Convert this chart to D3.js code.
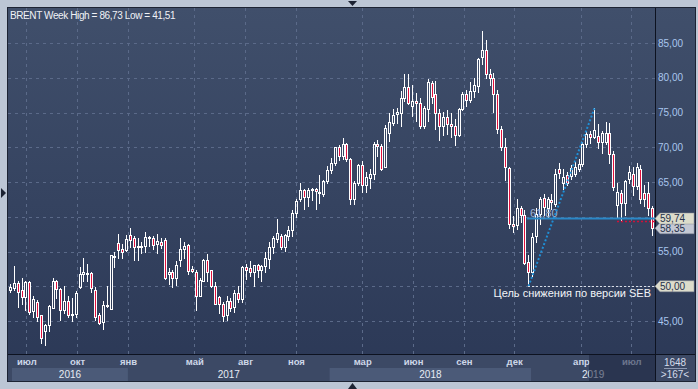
<!DOCTYPE html>
<html>
<head>
<meta charset="utf-8">
<script src="https://cdn.jsdelivr.net/npm/d3@7"></script>
<style>
  html, body { margin: 0; padding: 0; background: #bcc6d5; }
  svg { display: block; font-family: "Liberation Sans", Arial, sans-serif; }
</style>
</head>
<body>
<svg id="chart"></svg>
<script>
// Weekly BRENT candles, one per week, first week centred on 1 Jun 2016
const firstWeek = new Date(2016, 5, 1, 12);

const open = [
  49.5, 49.7, 50.4, 49.4, 48.4, 50.6, 46.5, 47.8, 45.8, 43.6,
  44.4, 46.9, 50.7, 49.6, 46.6, 47.9, 45.9, 46.0, 49.9, 51.8,
  51.9, 51.9, 49.4, 45.9, 44.9, 47.1, 46.7, 54.3, 56.2, 55.4,
  55.2, 57.4, 56.9, 55.6, 55.6, 55.8, 56.9, 57.0, 56.1, 56.4,
  56.6, 51.7, 52.0, 51.2, 53.8, 55.4, 55.9, 52.5, 52.1, 48.6,
  50.8, 53.8, 52.3, 50.0, 48.4, 47.4, 45.8, 47.9, 47.0, 49.1,
  48.1, 52.7, 52.6, 52.1, 53.0, 52.4, 52.9, 53.9, 55.6, 56.8,
  57.3, 55.7, 57.3, 58.1, 60.6, 62.5, 63.8, 62.8, 63.8, 64.0,
  63.5, 63.3, 65.1, 66.7, 67.7, 70.0, 68.8, 70.4, 68.3, 62.6,
  64.8, 67.4, 64.5, 65.6, 66.1, 70.4, 70.2, 67.2, 72.0, 73.5,
  74.8, 75.0, 77.1, 78.7, 75.9, 76.7, 76.4, 73.1, 75.5, 79.2,
  77.6, 75.0, 73.1, 74.4, 73.3, 73.0, 71.7, 75.5, 77.6, 76.8,
  78.1, 78.8, 83.0, 84.0, 80.5, 79.9, 77.7, 72.6, 70.0, 67.0,
  59.0, 58.8, 61.3, 60.2, 53.5, 52.1, 57.2, 60.4, 62.7, 61.2,
  62.4, 61.8, 66.8, 64.8, 66.0, 65.8, 66.2, 66.8, 67.6, 70.5,
  71.9, 71.5, 71.6, 70.7, 70.7, 72.1, 69.1, 61.7, 63.4, 62.0,
  65.4, 66.2, 64.4, 66.8, 63.4, 63.4, 61.2
];
const high = [
  50.3, 52.9, 50.8, 51.2, 50.8, 50.8, 48.6, 48.0, 45.9, 44.6,
  47.3, 51.2, 50.9, 49.8, 50.0, 48.6, 48.3, 49.3, 52.8, 54.1,
  53.2, 52.0, 49.9, 46.2, 47.9, 50.0, 54.5, 55.0, 57.5, 56.1,
  57.4, 58.4, 57.2, 57.0, 56.3, 57.8, 57.3, 57.3, 57.5, 57.0,
  57.0, 52.6, 52.4, 53.6, 56.9, 56.4, 56.1, 52.9, 52.4, 51.2,
  53.9, 54.7, 52.4, 50.6, 48.6, 47.8, 48.6, 48.3, 49.4, 50.1,
  52.9, 53.2, 53.7, 53.1, 53.2, 53.1, 55.0, 56.4, 57.3, 59.7,
  57.5, 57.5, 58.7, 60.9, 62.5, 64.8, 64.0, 64.1, 64.2, 64.1,
  66.0, 65.3, 67.3, 68.5, 70.1, 70.3, 71.4, 70.6, 68.5, 65.2,
  67.6, 68.0, 66.4, 66.8, 70.7, 71.1, 70.4, 73.2, 75.0, 75.5,
  75.6, 78.1, 80.6, 80.6, 78.9, 77.8, 77.1, 75.9, 79.8, 79.5,
  79.5, 75.5, 75.1, 75.4, 75.0, 74.0, 75.6, 77.9, 78.3, 79.4,
  79.9, 82.9, 86.73, 85.4, 81.3, 80.7, 78.2, 73.1, 71.4, 67.2,
  60.1, 62.5, 61.6, 61.0, 54.5, 57.6, 61.3, 62.9, 63.3, 62.9,
  63.3, 66.8, 67.8, 66.8, 66.4, 67.5, 67.9, 68.3, 70.7, 72.3,
  72.3, 75.6, 73.4, 72.4, 73.6, 73.5, 69.5, 64.8, 63.9, 65.3,
  67.3, 67.1, 67.7, 67.5, 64.5, 65.0, 61.5
];
const low = [
  49.2, 49.5, 47.0, 47.5, 46.6, 46.0, 45.6, 45.0, 41.8, 41.51,
  43.5, 46.8, 48.3, 45.1, 46.1, 45.6, 45.0, 45.6, 49.7, 50.7,
  50.8, 49.2, 45.1, 44.5, 43.8, 47.0, 46.8, 52.8, 54.0, 54.0,
  55.1, 55.6, 53.8, 53.8, 54.8, 55.0, 55.8, 55.3, 54.8, 55.5,
  51.1, 50.3, 49.9, 50.2, 52.9, 54.1, 51.7, 52.0, 46.6, 48.7,
  50.7, 50.7, 49.9, 47.4, 46.2, 45.0, 45.1, 46.5, 46.3, 47.8,
  47.8, 51.1, 51.5, 50.1, 51.3, 50.7, 52.1, 52.6, 54.8, 56.4,
  55.3, 55.1, 56.7, 57.3, 60.0, 62.2, 61.1, 61.5, 62.4, 61.1,
  62.0, 63.0, 64.9, 66.3, 67.4, 68.2, 68.3, 68.0, 61.9, 61.8,
  64.5, 63.5, 63.5, 64.2, 65.4, 68.8, 66.7, 67.1, 70.9, 73.2,
  73.5, 73.1, 76.7, 76.2, 74.5, 73.8, 72.8, 72.8, 73.8, 76.4,
  72.6, 71.1, 71.7, 71.9, 71.5, 70.3, 71.6, 75.3, 75.9, 76.5,
  77.2, 78.0, 82.0, 79.9, 79.0, 75.1, 72.1, 69.6, 65.3, 58.4,
  57.8, 58.2, 59.2, 53.2, 50.0, 51.5, 56.3, 58.9, 60.3, 59.8,
  61.1, 61.6, 65.6, 64.0, 64.6, 65.5, 65.8, 66.6, 67.3, 70.1,
  70.6, 71.3, 69.9, 69.2, 70.4, 67.7, 63.9, 59.9, 59.5, 60.2,
  64.9, 63.2, 64.0, 62.0, 61.5, 60.2, 57.4
];
const close = [
  49.9, 50.4, 49.2, 48.4, 50.6, 46.25, 48.2, 45.6, 42.5, 44.4,
  47.2, 50.7, 49.6, 46.6, 47.9, 45.9, 46.0, 49.0, 51.7, 52.0,
  51.9, 49.7, 45.6, 44.7, 47.3, 47.3, 54.5, 54.4, 55.2, 55.0,
  56.8, 56.7, 55.6, 55.8, 55.8, 57.1, 57.1, 56.0, 56.5, 55.9,
  51.2, 52.1, 51.2, 53.0, 55.4, 55.8, 52.2, 52.2, 48.6, 50.9,
  53.8, 52.1, 50.0, 47.5, 47.4, 45.7, 47.9, 46.9, 49.1, 48.1,
  52.7, 52.4, 52.1, 53.0, 52.4, 52.9, 54.0, 55.6, 57.0, 57.7,
  55.7, 57.4, 58.1, 60.6, 62.3, 63.8, 62.8, 63.8, 64.0, 63.7,
  63.6, 65.1, 66.7, 67.8, 70.0, 68.8, 70.5, 68.3, 62.6, 64.9,
  67.4, 64.5, 65.7, 66.1, 70.4, 70.2, 66.9, 72.7, 73.6, 74.6,
  75.1, 77.1, 78.7, 76.4, 76.7, 76.4, 73.1, 75.7, 79.4, 77.3,
  75.0, 73.0, 74.4, 73.4, 73.0, 71.7, 75.5, 77.6, 76.8, 78.1,
  78.9, 82.7, 84.0, 80.6, 79.9, 77.7, 72.6, 70.0, 67.1, 59.0,
  58.7, 61.3, 60.3, 53.4, 52.1, 57.1, 60.4, 62.6, 61.4, 62.6,
  62.1, 66.2, 66.3, 65.7, 64.9, 67.0, 67.2, 67.6, 70.5, 71.9,
  71.5, 72.5, 70.7, 72.0, 72.1, 69.1, 64.3, 63.5, 62.0, 65.2,
  66.5, 64.4, 67.2, 62.6, 62.6, 61.2, 58.35
];

// axis labels (50 and 60 sit under the price flags, so only their grid lines show)
const priceTicks = [45, 50, 55, 60, 65, 70, 75, 80, 85];
const priceLabels = [45, 55, 65, 70, 75, 80, 85];
const monthTicks = ["2016-07-01", "2016-10-01", "2017-01-01", "2017-05-01", "2017-08-01", "2017-11-01",
                    "2018-03-01", "2018-06-01", "2018-09-01", "2018-12-01", "2019-04-01", "2019-07-01"];
const monthLabels = ["июл", "окт", "янв", "май", "авг", "ноя", "мар", "июн", "сен", "дек", "апр", "июл"];
const years = [2016, 2017, 2018, 2019];

// drawn levels and notes
const title = "BRENT Week High = 86,73 Low = 41,51";
const fibLevel = 59.74;      // solid blue line
const fibText = "61,80";
const redLevel = 59.45;      // red dotted line
const targetLevel = 50.00;   // white dotted target line
const lastPrice = 58.35;
const trendFrom = 134, trendTo = 151, redFrom = 157; // candle indexes
const targetText = "Цель снижения по версии SEB";
const barsTotal = "1648", barsShown = ">167<";

// Dimensions
const W = 698, H = 389;
const plot = { left: 8, right: 655, top: 8, bottom: 354 };
const fmt = v => d3.format(".2f")(v).replace(".", ",");

const dates = open.map((d, i) => d3.timeDay.offset(firstWeek, 7 * i));
const parse = d3.timeParse("%Y-%m-%d");

const x = d3.scaleTime()
    .domain([dates[0], dates[dates.length - 1]])
    .range([10, 652]);
const y = d3.scaleLinear()
    .domain([45, 85])
    .range([321, 43]);

const svg = d3.select("#chart")
    .attr("width", W)
    .attr("height", H);

const defs = svg.append("defs");
const grad = defs.append("linearGradient")
    .attr("id", "bg")
    .attr("x1", 0).attr("y1", 0).attr("x2", 0).attr("y2", 1);
grad.append("stop").attr("offset", "0%").attr("stop-color", "#404f6b");
grad.append("stop").attr("offset", "100%").attr("stop-color", "#2b3856");

// outer frame + panel
svg.append("rect").attr("width", W).attr("height", H).attr("fill", "#bcc6d5");
svg.append("rect")
    .attr("x", 7.5).attr("y", 7.5)
    .attr("width", 688).attr("height", 374)
    .attr("fill", "url(#bg)")
    .attr("stroke", "#1c2333");

// time axis strip
svg.append("rect")
    .attr("x", 8).attr("y", 355)
    .attr("width", 687).attr("height", 26)
    .attr("fill", "#3c4965");

// year bands (alternate shade)
const bandL = d => Math.max(12, x(new Date(d, 0, 1)));
const bandR = d => Math.min(plot.right, x(new Date(d + 1, 0, 1)));
svg.selectAll(".yearBand")
    .data(years)
    .join("rect")
    .attr("class", "yearBand")
    .attr("x", bandL)
    .attr("y", 368)
    .attr("width", d => bandR(d) - bandL(d))
    .attr("height", 13)
    .attr("fill", (d, i) => i % 2 === 0 ? "#4b5a78" : "#3c4965");

// grid
svg.append("g")
    .selectAll("line")
    .data(priceTicks)
    .join("line")
    .attr("x1", plot.left).attr("x2", plot.right)
    .attr("y1", d => Math.round(y(d)) + 0.5).attr("y2", d => Math.round(y(d)) + 0.5)
    .attr("stroke", "#5b6a89")
    .attr("stroke-dasharray", "3,4");

svg.append("g")
    .selectAll("line")
    .data(monthTicks)
    .join("line")
    .attr("x1", d => Math.round(x(parse(d))) + 0.5).attr("x2", d => Math.round(x(parse(d))) + 0.5)
    .attr("y1", plot.top).attr("y2", plot.bottom)
    .attr("stroke", "#5b6a89")
    .attr("stroke-dasharray", "3,4");

// separators
svg.append("line")
    .attr("x1", 655.5).attr("x2", 655.5).attr("y1", 8).attr("y2", 381)
    .attr("stroke", "#0d1220");
svg.append("line")
    .attr("x1", 8).attr("x2", 695).attr("y1", 354.5).attr("y2", 354.5)
    .attr("stroke", "#0d1220");

// right price axis
const yAxis = svg.append("g")
    .attr("transform", `translate(${plot.right},0)`)
    .call(d3.axisRight(y).tickValues(priceLabels).tickFormat(fmt).tickSize(0).tickPadding(3));
yAxis.select(".domain").remove();
yAxis.selectAll("text")
    .attr("fill", "#a9c6ee")
    .style("font-family", "Liberation Sans, Arial, sans-serif")
    .style("font-size", "10px");

// month axis
const xAxis = svg.append("g")
    .attr("transform", "translate(0,358)")
    .call(d3.axisBottom(x).tickValues(monthTicks.map(parse))
        .tickFormat((d, i) => monthLabels[i]).tickSize(0).tickPadding(0));
xAxis.select(".domain").remove();
xAxis.selectAll("text")
    .attr("fill", "#cdd7e8")
    .style("font-family", "Liberation Sans, Arial, sans-serif")
    .style("font-size", "9.5px")
    .style("font-weight", "bold");

// year labels
svg.selectAll(".yearLabel")
    .data(years)
    .join("text")
    .attr("class", "yearLabel")
    .attr("x", d => (bandL(d) + bandR(d)) / 2)
    .attr("y", 378)
    .attr("text-anchor", "middle")
    .attr("fill", "#e6ecf5")
    .style("font-size", "10px")
    .text(d => d);

// darker scroll window over the time axis
svg.append("rect")
    .attr("x", 589).attr("y", 355)
    .attr("width", plot.right - 589).attr("height", 26)
    .attr("fill", "#1b2440")
    .attr("opacity", 0.55);

// candles
const candles = svg.append("g");
dates.forEach((d, i) => {
    const cx = Math.round(x(d));
    const top = Math.round(y(Math.max(open[i], close[i]))) + 0.5;
    const bot = Math.round(y(Math.min(open[i], close[i]))) + 0.5;
    const bull = close[i] >= open[i];

    candles.append("line")
        .attr("x1", cx + 0.5).attr("x2", cx + 0.5)
        .attr("y1", Math.round(y(high[i]))).attr("y2", top)
        .attr("stroke", "#ffffff");
    candles.append("line")
        .attr("x1", cx + 0.5).attr("x2", cx + 0.5)
        .attr("y1", bot).attr("y2", Math.round(y(low[i])) + 1)
        .attr("stroke", "#ffffff");
    candles.append("rect")
        .attr("x", cx - 0.5).attr("y", top)
        .attr("width", 2).attr("height", Math.max(1, bot - top))
        .attr("fill", bull ? "none" : "#e0103c")
        .attr("stroke", "#ffffff");
});

// levels and trend line
const xFrom = Math.round(x(dates[trendFrom]));

svg.append("line")
    .attr("x1", xFrom - 1).attr("x2", plot.right)
    .attr("y1", y(fibLevel)).attr("y2", y(fibLevel))
    .attr("stroke", "#2a88c8")
    .attr("stroke-width", 2);

svg.append("line")
    .attr("x1", Math.round(x(dates[redFrom]))).attr("x2", plot.right)
    .attr("y1", y(redLevel) + 1).attr("y2", y(redLevel) + 1)
    .attr("stroke", "#d0103a")
    .attr("stroke-width", 1.5)
    .attr("stroke-dasharray", "2,2");

svg.append("text")
    .attr("x", xFrom + 2)
    .attr("y", y(fibLevel) - 2)
    .attr("fill", "#9fb4da")
    .style("font-size", "11px")
    .text(fibText);

svg.append("line")
    .attr("x1", xFrom + 0.5).attr("y1", y(low[trendFrom]))
    .attr("x2", Math.round(x(dates[trendTo])) + 0.5).attr("y2", y(high[trendTo]))
    .attr("stroke", "#1f8fd6")
    .attr("stroke-width", 2)
    .attr("stroke-dasharray", "2,2");

svg.append("line")
    .attr("x1", xFrom).attr("x2", plot.right)
    .attr("y1", Math.round(y(targetLevel)) + 0.5).attr("y2", Math.round(y(targetLevel)) + 0.5)
    .attr("stroke", "#d8dde6")
    .attr("stroke-dasharray", "2,2");

svg.append("text")
    .attr("x", 651)
    .attr("y", 297)
    .attr("text-anchor", "end")
    .attr("fill", "#f2f4f8")
    .style("font-size", "11px")
    .text(targetText);

// price flags on the right axis
function flag(v, fill) {
    const yy = y(v);
    const g = svg.append("g");
    g.append("path")
        .attr("d", `M655,${yy} L660,${yy - 5.5} L694,${yy - 5.5} L694,${yy + 5.5} L660,${yy + 5.5} Z`)
        .attr("fill", fill)
        .attr("stroke", "#8a8f9a")
        .attr("stroke-width", 0.5);
    g.append("text")
        .attr("x", 660)
        .attr("y", yy)
        .attr("dy", "0.35em")
        .attr("fill", "#263049")
        .style("font-size", "10px")
        .text(fmt(v));
}
flag(lastPrice, "#c4c8d4");
flag(fibLevel, "#dcdccb");
flag(targetLevel, "#dcdccb");

// bars counter
svg.append("text")
    .attr("x", 675).attr("y", 366)
    .attr("text-anchor", "middle")
    .attr("fill", "#d5dcea")
    .style("font-size", "10px")
    .text(barsTotal);
svg.append("line")
    .attr("x1", 664).attr("x2", 687).attr("y1", 368.5).attr("y2", 368.5)
    .attr("stroke", "#8d99b2");
svg.append("text")
    .attr("x", 675).attr("y", 378)
    .attr("text-anchor", "middle")
    .attr("fill", "#d5dcea")
    .style("font-size", "10px")
    .text(barsShown);

// title
svg.append("text")
    .attr("x", 10)
    .attr("y", 19)
    .attr("fill", "#f0f2f6")
    .style("font-size", "10px")
    .style("letter-spacing", "-0.4px")
    .text(title);

// frame arrows
svg.append("path").attr("d", "M348,1 L357,1 L352.5,6 Z").attr("fill", "#1c2333");
svg.append("path").attr("d", "M348,389 L357,389 L352.5,383 Z").attr("fill", "#1c2333");
svg.append("path").attr("d", "M1,188 L6,193 L1,198 Z").attr("fill", "#1c2333");
</script>
</body>
</html>
